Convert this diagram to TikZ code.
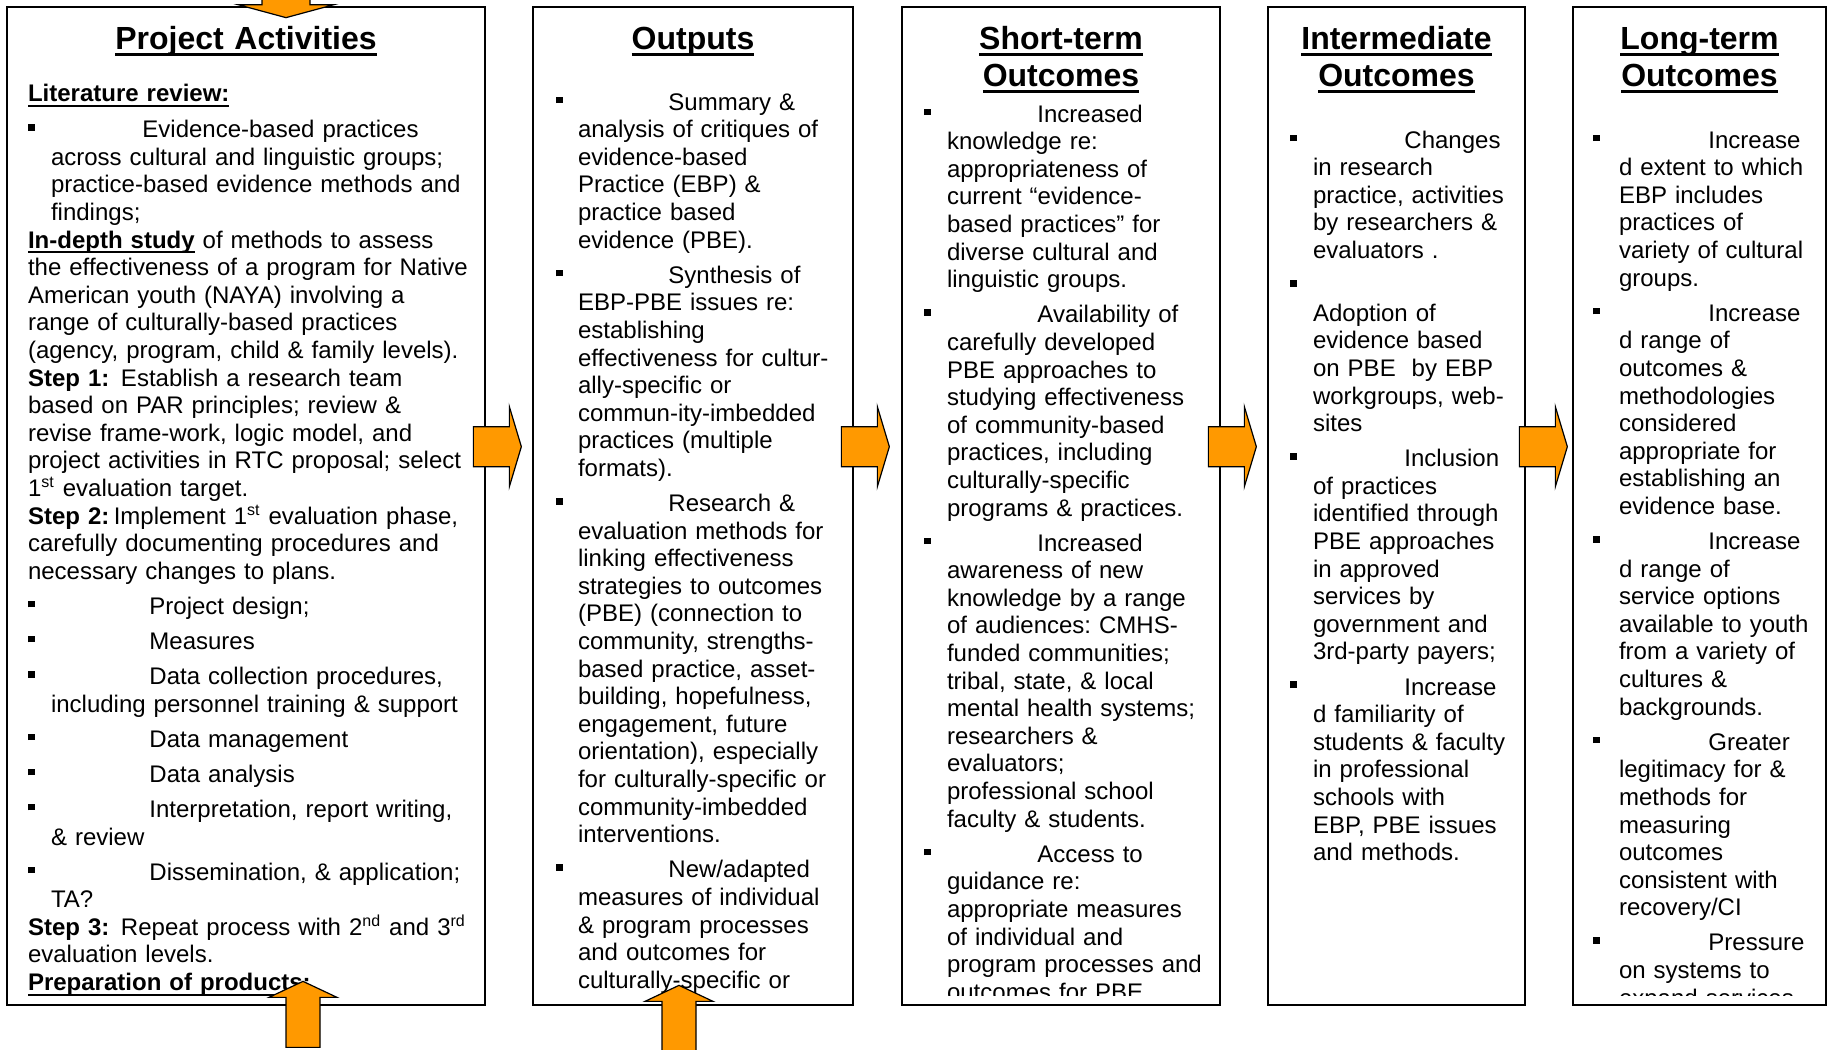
\documentclass[tikz,border=0pt]{standalone}
\usepackage{fontspec}
\setmainfont{Liberation Sans}
\usetikzlibrary{positioning,calc,fit}
\frenchspacing

\definecolor{arroworange}{RGB}{255,153,0}

% underlines, bullets and bullet paragraphs
\newsavebox{\ulsave}
\newcommand{\myul}[3]{\sbox{\ulsave}{#3}\leavevmode\rlap{\raisebox{-#1}{\rule{\wd\ulsave}{#2}}}\usebox{\ulsave}}
\newcommand{\headul}[1]{\myul{3.1pt}{1.4pt}{#1}}
\newcommand{\bodyul}[1]{\myul{2.5pt}{0.9pt}{#1}}
\newcommand{\sqbullet}{\raisebox{3.5pt}{\rule{3.3pt}{3.3pt}}}
\newlength{\bhang}
\newcommand{\bfirst}[3]{\noindent\makebox[#1][l]{\sqbullet}#2\par{\leftskip=\bhang\relax #3\par}}
\newcommand{\bitem}[3]{\par\vspace{3.75pt}\bfirst{#1}{#2}{#3}}

\begin{document}
\begin{tikzpicture}[
    x=0.5pt, y=-0.5pt,
    boxframe/.style={draw=black, line width=1.35pt, inner sep=0pt},
    ttl/.style={anchor=base, inner sep=0pt, text width=170pt, align=center, font=\fontsize{16pt}{18.5pt}\selectfont\bfseries},
    body/.style={anchor=base west, inner sep=0pt, text width=260pt, font=\fontsize{12pt}{13.8pt}\selectfont, execute at begin node=\raggedright},
    blockarrow/.style={fill=arroworange, draw=black, line width=0.6pt, line join=miter},
    fatright/.pic={\draw[blockarrow] (-13,-20) -- (23,-20) -- (23,-40) -- (35,0) -- (23,40) -- (23,20) -- (-13,20) -- cycle;},
    fatup/.pic={\draw[blockarrow] (-17,66) -- (-17,16) -- (-34,16) -- (0,0) -- (34,16) -- (17,16) -- (17,66) -- cycle;},
    fatdown/.pic={\draw[blockarrow] (-24,-40) -- (-24,-13) -- (-48,-13) -- (0,0) -- (48,-13) -- (24,-13) -- (24,-40) -- cycle;}
]
\fill[white] (0,0) rectangle (1828,1050);
\useasboundingbox (0,0) rectangle (1828,1050);

% the five columns
\node[boxframe, fit={(7,7) (485,1005)}] (act) {};
\node[boxframe, fit={(533,7) (853,1005)}] (outp) {};
\node[boxframe, fit={(902,7) (1220,1005)}] (stout) {};
\node[boxframe, fit={(1268,7) (1525,1005)}] (imout) {};
\node[boxframe, fit={(1573,7) (1826,1005)}] (ltout) {};

% Project Activities
\begin{scope}
\clip (act.north west) rectangle ($(act.south east)+(0,-11)$);
\node[ttl] (actTitle) at ($(act.north)+(0,44)$) {\headul{Project Activities}};
\node[body] (actText) at ($(act.north west)+(22,96)$) {\setlength{\bhang}{11.5pt}%
\bodyul{\textbf{Literature review:}}\par\vspace{4.2pt}%
\bfirst{57.2pt}{Evidence-based practices}{across cultural and linguistic groups;\\practice-based evidence methods and\\findings;}%
\textbf{\bodyul{In-depth study}} of methods to assess\\the effectiveness of a program for Native\\American youth (NAYA) involving a\\range of culturally-based practices\\(agency, program, child \& family levels).\\
\textbf{Step 1:}\hspace{5.8pt}Establish a research team\\based on PAR principles; review \&\\revise frame-work, logic model, and\\project activities in RTC proposal; select\\1\textsuperscript{st} evaluation target.\\
\textbf{Step 2:}\hspace{2.2pt}Implement 1\textsuperscript{st} evaluation phase,\\carefully documenting procedures and\\necessary changes to plans.%
\bitem{60.7pt}{Project design;}{}%
\bitem{60.7pt}{Measures}{}%
\bitem{60.7pt}{Data collection procedures,}{including personnel training \& support}%
\bitem{60.7pt}{Data management}{}%
\bitem{60.7pt}{Data analysis}{}%
\bitem{60.7pt}{Interpretation, report writing,}{\& review}%
\bitem{60.7pt}{Dissemination, \& application;}{TA?}%
\textbf{Step 3:}\hspace{5.8pt}Repeat process with 2\textsuperscript{nd} and 3\textsuperscript{rd}\\evaluation levels.\\
\textbf{\bodyul{Preparation of products:}}};
\end{scope}

% Outputs
\begin{scope}
\clip (outp.north west) rectangle ($(outp.south east)+(0,-11)$);
\node[ttl] (outpTitle) at ($(outp.north)+(0,44)$) {\headul{Outputs}};
\node[body] (outpText) at ($(outp.north west)+(24,104.5)$) {\setlength{\bhang}{11pt}%
\bfirst{56.2pt}{Summary \&}{analysis of critiques of\\evidence-based\\Practice (EBP) \&\\practice based\\evidence (PBE).}%
\bitem{56.2pt}{Synthesis of}{EBP-PBE issues re:\\establishing\\effectiveness for cultur-\\ally-specific or\\commun-ity-imbedded\\practices (multiple\\formats).}%
\bitem{56.2pt}{Research \&}{evaluation methods for\\linking effectiveness\\strategies to outcomes\\(PBE) (connection to\\community, strengths-\\based practice, asset-\\building, hopefulness,\\engagement, future\\orientation), especially\\for culturally-specific or\\community-imbedded\\interventions.}%
\bitem{56.2pt}{New/adapted}{measures of individual\\\& program processes\\and outcomes for\\culturally-specific or}};
\end{scope}

% Short-term Outcomes
\begin{scope}
\clip (stout.north west) rectangle ($(stout.south east)+(0,-11)$);
\node[ttl] (stoutTitle) at ($(stout.north)+(0,44)$) {\headul{Short-term}\\\headul{Outcomes}};
\node[body] (stoutText) at ($(stout.north west)+(23,116.5)$) {\setlength{\bhang}{11.5pt}%
\bfirst{56.7pt}{Increased}{knowledge re:\\appropriateness of\\current “evidence-\\based practices” for\\diverse cultural and\\linguistic groups.}%
\bitem{56.7pt}{Availability of}{carefully developed\\PBE approaches to\\studying effectiveness\\of community-based\\practices, including\\culturally-specific\\programs \& practices.}%
\bitem{56.7pt}{Increased}{awareness of new\\knowledge by a range\\of audiences: CMHS-\\funded communities;\\tribal, state, \& local\\mental health systems;\\researchers \&\\evaluators;\\professional school\\faculty \& students.}%
\bitem{56.7pt}{Access to}{guidance re:\\appropriate measures\\of individual and\\program processes and\\outcomes for PBE}};
\end{scope}

% Intermediate Outcomes
\begin{scope}
\clip (imout.north west) rectangle ($(imout.south east)+(0,-11)$);
\node[ttl] (imoutTitle) at ($(imout.north)+(0,44)$) {\headul{Intermediate}\\\headul{Outcomes}};
\node[body] (imoutText) at ($(imout.north west)+(23,142.5)$) {\setlength{\bhang}{11.5pt}%
\bfirst{57.2pt}{Changes}{in research\\practice, activities\\by researchers \&\\evaluators .}%
\bitem{57.2pt}{}{Adoption of\\evidence based\\on PBE\ \ by EBP\\workgroups, web-\\sites}%
\bitem{57.2pt}{Inclusion}{of practices\\identified through\\PBE approaches\\in approved\\services by\\government and\\3rd-party payers;}%
\bitem{57.2pt}{Increase}{d familiarity of\\students \& faculty\\in professional\\schools with\\EBP, PBE issues\\and methods.}};
\end{scope}

% Long-term Outcomes
\begin{scope}
\clip (ltout.north west) rectangle ($(ltout.south east)+(0,-11)$);
\node[ttl] (ltoutTitle) at ($(ltout.north)+(0,44)$) {\headul{Long-term}\\\headul{Outcomes}};
\node[body] (ltoutText) at ($(ltout.north west)+(21,142.5)$) {\setlength{\bhang}{13pt}%
\bfirst{57.7pt}{Increase}{d extent to which\\EBP includes\\practices of\\variety of cultural\\groups.}%
\bitem{57.7pt}{Increase}{d range of\\outcomes \&\\methodologies\\considered\\appropriate for\\establishing an\\evidence base.}%
\bitem{57.7pt}{Increase}{d range of\\service options\\available to youth\\from a variety of\\cultures \&\\backgrounds.}%
\bitem{57.7pt}{Greater}{legitimacy for \&\\methods for\\measuring\\outcomes\\consistent with\\recovery/CI}%
\bitem{57.7pt}{Pressure}{on systems to\\expand services}};
\end{scope}

% block arrows
\pic at ($(act.north)+(40,12)$) {fatdown};
\pic at ($(act.north east)+(0,441)$) {fatright};
\pic at ($(outp.north east)+(0,441)$) {fatright};
\pic at ($(stout.north east)+(0,441)$) {fatright};
\pic at ($(imout.north east)+(6,441)$) {fatright};
\pic at ($(act.south)+(57,-25)$) {fatup};
\pic at ($(outp.south)+(-14,-21)$) {fatup};

\end{tikzpicture}
\end{document}
